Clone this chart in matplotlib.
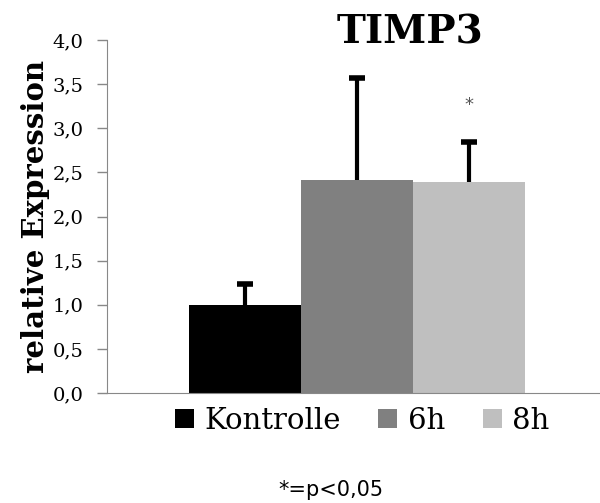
import matplotlib.pyplot as plt

# Expression data
groups = ["Kontrolle", "6h", "8h"]
means = [1.00, 2.41, 2.39]
errors = [0.23, 1.16, 0.45]
colors = ["#000000", "#808080", "#bfbfbf"]
yticks = [0.0, 0.5, 1.0, 1.5, 2.0, 2.5, 3.0, 3.5, 4.0]
sig_level = 3.26  # where the asterisk sits

W, H = 600, 503
fig = plt.figure(figsize=(W / 100, H / 100), dpi=100)
ax = fig.add_axes([107 / W, 110 / H, (600 - 107) / W, (393 - 40) / H])

serif = "DejaVu Serif"
x = list(range(len(groups)))
bars = ax.bar(x, means, width=1.0, color=colors, label=groups, zorder=2)
eb = ax.errorbar(x, means, yerr=[[0] * len(errors), errors], fmt="none",
                 ecolor="black", elinewidth=3, capsize=6, capthick=4, zorder=3)
# only the upper whisker gets a cap
eb[1][0].set_visible(False)
ax.text(2, sig_level, "*", ha="center", va="center", fontsize=13, color="#555555")

ax.set_xlim(-1.232, 3.17)
ax.set_ylim(0, 4)
ax.set_xticks([])
ax.set_yticks(yticks)
ax.set_yticklabels([f"{v:.1f}".replace(".", ",") for v in yticks],
                   fontsize=14, family=serif)
ax.tick_params(axis="y", length=7, color="#888888", width=1, pad=10)
for s in ["top", "right"]:
    ax.spines[s].set_visible(False)
for s in ["left", "bottom"]:
    ax.spines[s].set_color("#888888")

ax.set_ylabel("relative Expression", fontsize=21, fontweight="bold",
              family=serif, labelpad=2)
fig.text(410 / W, 1 - 32 / H, "TIMP3", ha="center", va="center",
         fontsize=28, fontweight="bold", family=serif)

fig.legend(handles=bars, labels=groups, loc="center",
           bbox_to_anchor=(362 / W, 1 - 421 / H), ncol=3, frameon=False,
           prop={"family": serif, "size": 21}, handlelength=0.65,
           handleheight=0.65, handletextpad=0.35, columnspacing=1.3)

fig.text(331 / W, 1 - 490 / H, "*=p<0,05", ha="center", va="center",
         fontsize=15, family="DejaVu Sans")

fig.savefig("out.png", dpi=100)
